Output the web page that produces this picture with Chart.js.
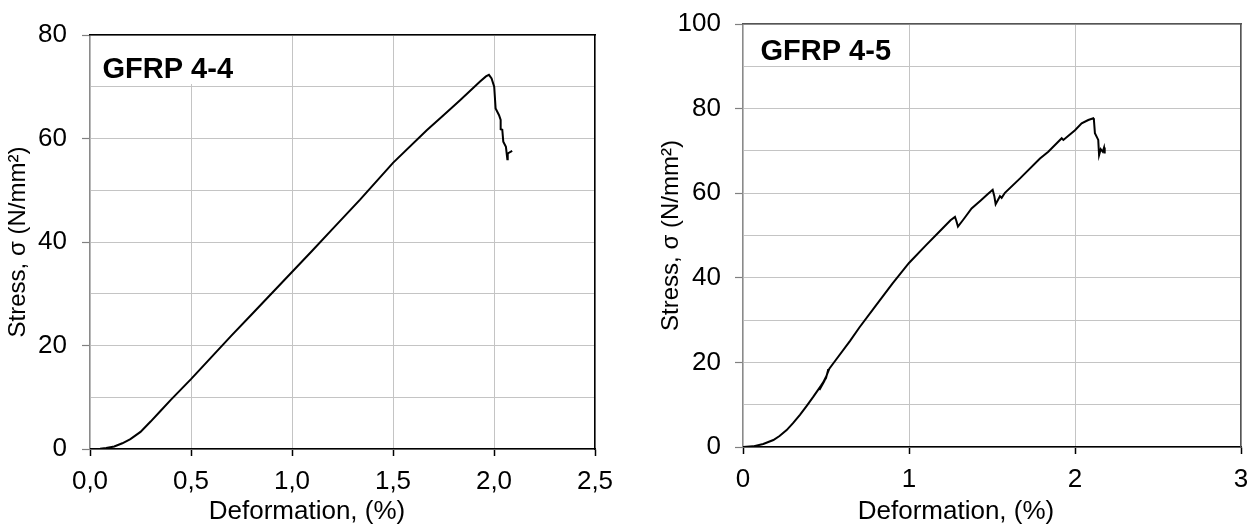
<!DOCTYPE html>
<html><head><meta charset="utf-8">
<script src="https://cdn.jsdelivr.net/npm/chart.js@4.4.1/dist/chart.umd.min.js"></script>
<style>
html,body{margin:0;padding:0;background:#fff;}
body{width:1259px;height:529px;position:relative;overflow:hidden;}
.box{position:absolute;top:0;height:529px;}
#boxA{left:0;width:614px;}
#boxB{left:653px;width:606px;}
</style></head><body>
<div class="box" id="boxA"><canvas id="chartA"></canvas></div>
<div class="box" id="boxB"><canvas id="chartB"></canvas></div>
<script>
const FONT = '"Liberation Sans", Arial, Helvetica, sans-serif';

// ---- GFRP 4-4 (left) ----
const specimen44 = 'GFRP 4-4';
const strain44 = [0, 0.05, 0.08, 0.12, 0.16, 0.2, 0.25, 0.3, 0.35, 0.4, 0.5, 0.6, 0.7, 0.8, 0.9, 1.0, 1.1, 1.2, 1.337, 1.5, 1.667, 1.75, 1.832, 1.931, 1.96, 1.975, 1.988, 2.001, 2.008, 2.025, 2.033, 2.033, 2.041, 2.046, 2.059, 2.066, 2.068, 2.09];
const stress44 = [0, 0.05, 0.2, 0.5, 1.1, 1.9, 3.3, 5.3, 7.4, 9.5, 13.5, 17.7, 21.9, 26.0, 30.1, 34.2, 38.3, 42.5, 48.2, 55.3, 61.6, 64.5, 67.4, 71.0, 72.0, 72.3, 71.6, 70.0, 65.8, 64.5, 63.6, 61.8, 61.7, 59.4, 58.4, 56.0, 57.1, 57.6];
const xRange44 = [0, 2.5];
const xStep44 = 0.5;
const yRange44 = [0, 80];

// ---- GFRP 4-5 (right) ----
const specimen45 = 'GFRP 4-5';
const strain45 = [0, 0.06, 0.122, 0.183, 0.22, 0.263, 0.3, 0.343, 0.385, 0.424, 0.47, 0.5, 0.514, 0.505, 0.46, 0.49, 0.52, 0.55, 0.645, 0.7, 0.8, 0.9, 1.0, 1.1, 1.2, 1.25, 1.277, 1.285, 1.295, 1.33, 1.377, 1.432, 1.475, 1.504, 1.514, 1.522, 1.548, 1.558, 1.578, 1.669, 1.789, 1.839, 1.92, 1.93, 2.0, 2.04, 2.08, 2.11, 2.114, 2.12, 2.14, 2.145, 2.155, 2.167, 2.175, 2.179];
const stress45 = [0, 0.15, 0.7, 1.65, 2.6, 4.0, 5.6, 7.6, 9.8, 11.9, 14.5, 16.3, 18.4, 17.0, 13.5, 15.6, 18.5, 20.1, 25.1, 28.2, 33.4, 38.6, 43.5, 47.6, 51.6, 53.6, 54.4, 53.5, 52.1, 53.9, 56.4, 58.3, 59.8, 60.8, 59.3, 57.4, 59.3, 58.9, 60.1, 63.5, 68.2, 69.8, 73.0, 72.6, 74.9, 76.5, 77.3, 77.7, 77.3, 74.2, 72.6, 69.0, 70.4, 69.8, 70.8, 69.4];
const xRange45 = [0, 3];
const xStep45 = 1;
const yRange45 = [0, 100];

// shared axis text
const yGridStep = 10;
const yLabelStep = 20;
const xTitle = 'Deformation, (%)';
const yTitle = 'Stress, \u03c3 (N/mm\u00b2)';

const specimenLabel = {
  id: 'specimenLabel',
  afterDatasetsDraw(chart, args, opts) {
    const {ctx, chartArea: a} = chart;
    ctx.save();
    ctx.fillStyle = '#fff';
    ctx.fillRect(a.left + opts.bx, a.top + opts.by, opts.bw, opts.bh);
    ctx.fillStyle = '#000';
    ctx.font = 'bold 29px ' + FONT;
    ctx.textAlign = 'left';
    ctx.textBaseline = 'alphabetic';
    ctx.fillText(opts.text, a.left + opts.dx, a.top + opts.dy);
    ctx.restore();
  }
};

function makeChart(id, o) {
  const pts = o.xs.map((x, i) => ({x: x, y: o.ys[i]}));
  const tickFont = {family: FONT, size: 26};
  return new Chart(document.getElementById(id), {
    type: 'line',
    data: {datasets: [{label: o.label, data: pts, borderColor: '#000', backgroundColor: '#000',
      borderWidth: 2, pointRadius: 0, tension: 0, fill: false}]},
    plugins: [specimenLabel],
    options: {
      responsive: true, maintainAspectRatio: false, animation: false, devicePixelRatio: 1,
      layout: {padding: {left: 0, right: 0, top: o.padTop, bottom: 0}},
      events: [],
      plugins: {
        legend: {display: false},
        tooltip: {enabled: false},
        title: {display: true, text: xTitle, position: 'bottom', align: 'center', color: '#000',
          font: {family: FONT, size: 26, weight: 'normal'}, padding: {top: 0, bottom: 2}},
        specimenLabel: {text: o.label, dx: o.dx, dy: o.dy, bx: o.box[0], by: o.box[1], bw: o.box[2], bh: o.box[3]}
      },
      scales: {
        x: {
          type: 'linear', position: 'bottom', min: o.xRange[0], max: o.xRange[1],
          ticks: {stepSize: o.xStep, callback: o.fmt, font: tickFont, color: '#000', padding: 10, autoSkip: false, maxRotation: 0},
          grid: {color: '#c4c4c4', lineWidth: 1, tickLength: 7, tickColor: '#000', tickWidth: 1.5},
          border: {display: true, color: '#000', width: 1.5},
          afterFit: s => { s.height = o.xAxisH; s.paddingLeft = 0; s.paddingRight = 0; }
        },
        y: {
          type: 'linear', position: 'left', min: o.yRange[0], max: o.yRange[1],
          ticks: {stepSize: yGridStep, autoSkip: false, font: tickFont, color: '#000', padding: o.yPad,
            callback: v => (v % yLabelStep === 0 ? String(v) : '')},
          grid: {color: '#c4c4c4', lineWidth: 1, tickLength: 8, tickWidth: 1.2,
            tickColor: c => (c.tick && c.tick.value % yLabelStep === 0 ? '#808080' : 'rgba(0,0,0,0)')},
          border: {display: true, color: '#8a8a8a', width: 1.2},
          title: {display: true, text: yTitle, color: '#000', font: {family: FONT, size: 24}, padding: {top: 4, bottom: 0}},
          afterFit: s => { s.width = 90; s.paddingTop = 0; s.paddingBottom = 0; }
        },
        x2: {
          type: 'linear', position: 'top', display: true,
          grid: {display: false, drawTicks: false}, ticks: {display: false},
          border: {display: true, color: o.frame, width: 1.5},
          afterFit: s => { s.height = 0; s.paddingLeft = 0; s.paddingRight = 0; }
        },
        y2: {
          type: 'linear', position: 'right', display: true,
          grid: {display: false, drawTicks: false}, ticks: {display: false},
          border: {display: true, color: o.frame, width: 1.5},
          afterFit: s => { s.width = o.rightGap; s.paddingTop = 0; s.paddingBottom = 0; }
        }
      }
    }
  });
}

makeChart('chartA', {
  xs: strain44, ys: stress44, label: specimen44,
  xRange: xRange44, xStep: xStep44, yRange: yRange44,
  fmt: v => Number(v).toFixed(1).replace('.', ','),
  padTop: 35, xAxisH: 46.8, rightGap: 19, yPad: 15, frame: '#000',
  dx: 12.5, dy: 43, box: [4, 1, 148, 48]
});

makeChart('chartB', {
  xs: strain45, ys: stress45, label: specimen45,
  xRange: xRange45, xStep: xStep45, yRange: yRange45,
  fmt: v => String(v),
  padTop: 24, xAxisH: 48.8, rightGap: 18, yPad: 14, frame: '#555',
  dx: 17.5, dy: 36, box: [8, 1, 146, 38]
});
</script></body></html>
